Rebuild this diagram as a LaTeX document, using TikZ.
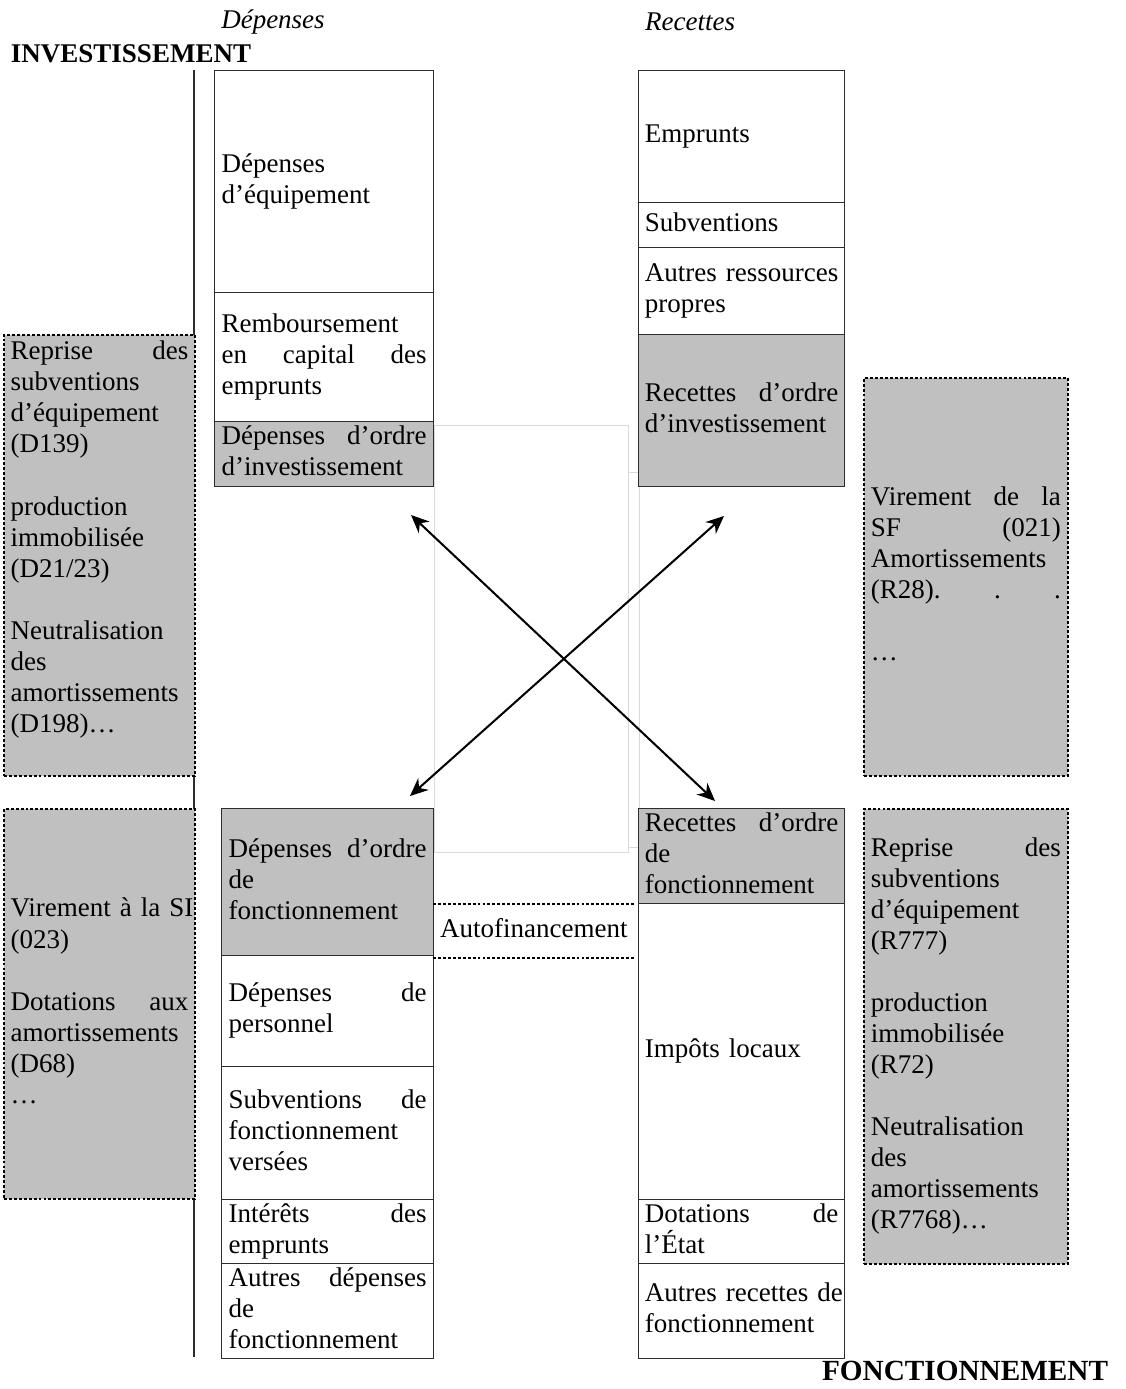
\documentclass[tikz,border=0pt]{standalone}
\usepackage{fontspec}
\setmainfont{Liberation Serif}
\usetikzlibrary{arrows.meta}
\definecolor{gfill}{RGB}{192,192,192}
\definecolor{frame}{RGB}{45,45,45}
\definecolor{lightframe}{RGB}{218,218,218}
\newcommand{\jf}{\hspace*{\fill}}
\begin{document}
\begin{tikzpicture}[x=0.44444pt,y=-0.44444pt,
  base/.style={font=\fontsize{12}{13.8}\selectfont, align=left, inner ysep=0pt,
    anchor=north west, execute at begin node={\lineskiplimit=-20pt\hyphenpenalty=10000\strut}, execute at end node=\strut},
  cell/.style={base, draw=frame, line width=0.5pt},
  gcell/.style={cell, fill=gfill},
  colLT/.style={minimum width=97.33pt, text width=91.11pt, inner xsep=3.11pt},
  colLB/.style={minimum width=94.22pt, text width=88pt, inner xsep=3.11pt},
  colR/.style={minimum width=91.56pt, text width=86pt, inner xsep=2.78pt},
  dotbox/.style={base, fill=gfill, draw=black, line width=0.8pt, dash pattern=on 1.3pt off 0.9pt},
  dotL/.style={minimum width=84.89pt, text width=79pt, inner xsep=2.94pt},
  dotR/.style={minimum width=90.67pt, text width=84.44pt, inner xsep=3.11pt},
  dotline/.style={draw=black, line width=0.6pt, dash pattern=on 1.3pt off 0.9pt},
  title/.style={font=\fontsize{12}{13.8}\selectfont, inner sep=0pt},
  dblarrow/.style={line width=0.9pt, {Stealth[length=8pt,width=7pt]}-{Stealth[length=8pt,width=7pt]}}
]
\useasboundingbox (0,0) rectangle (1125,1389);

% titles
\node[title, font=\fontsize{12}{13.8}\selectfont\itshape] (tdep) at (273,22) {Dépenses};
\node[title, font=\fontsize{12}{13.8}\selectfont\itshape] (trec) at (690,22) {Recettes};
\node[title, font=\fontsize{12}{13.8}\selectfont\bfseries] (tinv) at (131,54) {INVESTISSEMENT};
\node[title, font=\fontsize{13}{15}\selectfont\bfseries] (tfon) at (965,1371) {FONCTIONNEMENT};

% left vertical line
\coordinate (v1) at (194,70);
\coordinate (v2) at (194,1357);
\draw[frame, line width=0.6pt] (v1) -- (v2);

% centre rectangles
\node[draw=lightframe, line width=0.6pt, inner sep=0pt, anchor=north west,
  minimum width=86.22pt, minimum height=189.78pt] (ctr) at (434,425) {};
\node[draw=lightframe, line width=0.6pt, inner sep=0pt, anchor=north west,
  minimum width=4.89pt, minimum height=166.67pt] (ctrb) at (628,472) {};

% investissement - depenses
\node[cell,colLT,minimum height=98.67pt] (deq) at (214,70) {Dépenses\\ d’équipement};
\node[cell,colLT,minimum height=57.33pt] (remb) at (214,292) {Remboursement\\ en\jf capital\jf des\\ emprunts};
\node[gcell,colLT,minimum height=28.89pt] (doi) at (214,421) {Dépenses\jf d’ordre\\ d’investissement};

% investissement - recettes
\node[cell,colR,minimum height=58.67pt] (emp) at (638,70) {Emprunts};
\node[cell,colR,minimum height=20pt] (sub) at (638,202) {Subventions};
\node[cell,colR,minimum height=38.67pt] (arp) at (638,247) {\mbox{Autres ressources}\\ propres};
\node[gcell,colR,minimum height=67.56pt] (roi) at (638,334) {Recettes\jf d’ordre\\ d’investissement};

% fonctionnement - depenses
\node[gcell,colLB,minimum height=65.33pt] (dof) at (221,808) {Dépenses\jf d’ordre\\ de\\ fonctionnement};
\node[cell,colLB,minimum height=49.33pt] (dper) at (221,955) {Dépenses\jf de\\ personnel};
\node[cell,colLB,minimum height=59.11pt] (sfv) at (221,1066) {Subventions\jf de\\ fonctionnement\\ versées};
\node[cell,colLB,minimum height=28.44pt] (iemp) at (221,1199) {Intérêts\jf des\\ emprunts};
\node[cell,colLB,minimum height=42.22pt] (adf) at (221,1263) {Autres\jf dépenses\\ de\\ fonctionnement};

% fonctionnement - recettes
\node[gcell,colR,minimum height=42.22pt] (rof) at (638,808) {Recettes\jf d’ordre\\ de\\ fonctionnement};
\node[cell,colR,minimum height=131.56pt] (imp) at (638,903) {\mbox{Impôts locaux}};
\node[cell,colR,minimum height=28.44pt] (dete) at (638,1199) {Dotations\jf de\\ l’État};
\node[cell,colR,minimum height=42.22pt] (arf) at (638,1263) {\mbox{Autres recettes de}\\ fonctionnement};

% autofinancement
\node[base, inner xsep=0pt, minimum width=89.33pt, minimum height=23.56pt, align=center] (auto) at (433,904) {Autofinancement};
\draw[dotline] (auto.north west) -- (auto.north east);
\draw[dotline] (auto.south west) -- (auto.south east);

% dotted grey boxes
\node[dotbox,dotL,minimum height=196pt] (dl1) at (3,334) {Reprise\jf des\\ subventions\\ d’équipement\\ (D139)\\ \mbox{}\\ production\\ immobilisée\\ (D21/23)\\ \mbox{}\\ Neutralisation\\ des\\ amortissements\\ (D198)…\\ \mbox{}};
\node[dotbox,dotL,minimum height=173.33pt] (dl2) at (3,808) {\mbox{Virement à la SI}\\ (023)\\ \mbox{}\\ Dotations\jf aux\\ amortissements\\ (D68)\\ …};
\node[dotbox,dotR,minimum height=176.89pt] (dr1) at (863,377) {Virement\jf de\jf la\\ SF\jf (021)\\ Amortissements\\ (R28).\jf.\jf.\\ \mbox{}\\ …};
\node[dotbox,dotR,minimum height=202.22pt] (dr2) at (863,808) {Reprise\jf des\\ subventions\\ d’équipement\\ (R777)\\ \mbox{}\\ production\\ immobilisée\\ (R72)\\ \mbox{}\\ Neutralisation\\ des\\ amortissements\\ (R7768)…};

% arrows
\coordinate (p1) at (411,515);
\coordinate (p2) at (715,801);
\coordinate (q1) at (724,516);
\coordinate (q2) at (410,796);
\draw[dblarrow] (p1) -- (p2);
\draw[dblarrow] (q1) -- (q2);
\end{tikzpicture}
\end{document}
